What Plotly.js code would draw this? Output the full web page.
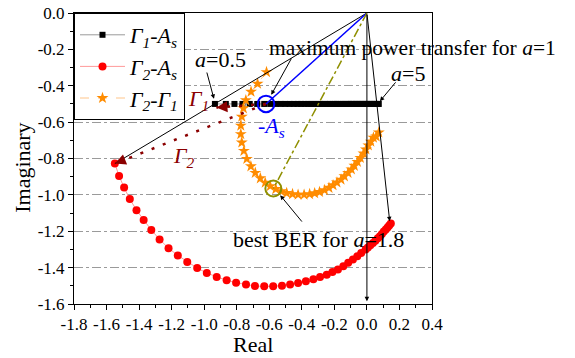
<!DOCTYPE html>
<html>
<head>
<meta charset="utf-8">
<script src="https://cdn.plot.ly/plotly-3.0.1.min.js"></script>
<style>html,body{margin:0;padding:0;background:#fff;}#chart{width:575px;height:358px;}</style>
</head>
<body>
<div id="chart"></div>
<script>
// ---- data ----
const g1As_x = [-0.934,-0.867,-0.814,-0.765,-0.720,-0.674,-0.631,-0.594,-0.560,-0.530,-0.502,-0.475,-0.450,-0.426,-0.404,-0.383,-0.361,-0.343,-0.325,-0.306,-0.288,-0.273,-0.257,-0.242,-0.227,-0.211,-0.199,-0.187,-0.175,-0.162,-0.150,-0.138,-0.126,-0.116,-0.107,-0.098,-0.089,-0.080,-0.070,-0.061,-0.052,-0.043,-0.034,-0.024,-0.015,-0.006,0.003,0.012,0.021,0.031,0.040,0.049,0.058,0.067,0.073];
const g1As_y = g1As_x.map(() => -0.5);

const g2As_x = [-1.549,-1.523,-1.492,-1.457,-1.416,-1.372,-1.325,-1.274,-1.219,-1.162,-1.104,-1.043,-0.984,-0.923,-0.862,-0.804,-0.743,-0.688,-0.631,-0.576,-0.522,-0.472,-0.423,-0.375,-0.329,-0.288,-0.247,-0.212,-0.178,-0.145,-0.115,-0.086,-0.059,-0.035,-0.008,0.006,0.021,0.037,0.052,0.067,0.080,0.092,0.104,0.116,0.127,0.137,0.147];
const g2As_y = [-0.828,-0.896,-0.960,-1.023,-1.084,-1.138,-1.193,-1.245,-1.293,-1.333,-1.369,-1.402,-1.430,-1.451,-1.470,-1.483,-1.493,-1.501,-1.503,-1.503,-1.499,-1.493,-1.484,-1.475,-1.464,-1.451,-1.439,-1.424,-1.410,-1.393,-1.373,-1.355,-1.337,-1.319,-1.301,-1.289,-1.277,-1.264,-1.252,-1.239,-1.227,-1.215,-1.202,-1.190,-1.179,-1.168,-1.157];

const g2g1_x = [-0.617,-0.672,-0.712,-0.744,-0.759,-0.769,-0.775,-0.775,-0.769,-0.756,-0.738,-0.713,-0.686,-0.655,-0.625,-0.594,-0.560,-0.527,-0.493,-0.457,-0.423,-0.386,-0.352,-0.321,-0.291,-0.260,-0.233,-0.208,-0.184,-0.159,-0.138,-0.116,-0.095,-0.077,-0.058,-0.040,-0.021,-0.006,0.009,0.024,0.040,0.057,0.073];
const g2g1_y = [-0.325,-0.389,-0.433,-0.480,-0.524,-0.570,-0.619,-0.666,-0.712,-0.758,-0.802,-0.843,-0.879,-0.909,-0.933,-0.952,-0.968,-0.980,-0.990,-0.996,-0.999,-0.999,-0.996,-0.991,-0.984,-0.974,-0.961,-0.947,-0.932,-0.916,-0.898,-0.879,-0.860,-0.840,-0.819,-0.797,-0.772,-0.750,-0.728,-0.707,-0.685,-0.679,-0.657];

const seriesNames = ['<i>Γ<sub>1</sub>-A<sub>s</sub></i>', '<i>Γ<sub>2</sub>-A<sub>s</sub></i>', '<i>Γ<sub>2</sub>-Γ<sub>1</sub></i>'];

const xTickVals = [-1.8,-1.6,-1.4,-1.2,-1.0,-0.8,-0.6,-0.4,-0.2,0.0,0.2,0.4];
const xTickText = ['-1.8','-1.6','-1.4','-1.2','-1.0','-0.8','-0.6','-0.4','-0.2','0.0','0.2','0.4'];
const yTickVals = [0.0,-0.2,-0.4,-0.6,-0.8,-1.0,-1.2,-1.4,-1.6];
const yTickText = ['0.0','-0.2','-0.4','-0.6','-0.8','-1.0','-1.2','-1.4','-1.6'];

// key points
const origin = [0, 0];
const minusAs = [-0.62, -0.5];
const gamma1Pt = [-0.925, -0.52];
const gamma2Pt = [g2As_x[0], g2As_y[0]];
const bestBER = [-0.575, -0.965];
const redEnd = [0.14, -1.145];
const bottomPt = [0, -1.585];

const serif = 'Liberation Serif';
const darkRed = '#8b0000';

const traces = [
  {x: g1As_x, y: g1As_y, name: seriesNames[0], type: 'scatter', mode: 'lines+markers',
   line: {color: '#9a9a9a', width: 1}, marker: {symbol: 'square', size: 6, color: '#000'}},
  {x: g2As_x, y: g2As_y, name: seriesNames[1], type: 'scatter', mode: 'lines+markers',
   line: {color: '#ff9a9a', width: 1}, marker: {symbol: 'circle', size: 8, color: '#ff0000'}},
  {x: g2g1_x, y: g2g1_y, name: seriesNames[2], type: 'scatter', mode: 'lines+markers',
   line: {color: '#ffc58a', width: 1, dash: 'dash'}, marker: {symbol: 'star', size: 9, color: '#ff8c00', line: {width: 0}}}
];

function seg(p, q, color, width, dash) {
  return {type: 'line', xref: 'x', yref: 'y', x0: p[0], y0: p[1], x1: q[0], y1: q[1],
          line: {color: color, width: width, dash: dash || 'solid'}, layer: 'above'};
}
function ring(c, r, color) {
  return {type: 'circle', xref: 'x', yref: 'y', xsizemode: 'pixel', ysizemode: 'pixel',
          xanchor: c[0], yanchor: c[1], x0: -r, x1: r, y0: -r, y1: r,
          line: {color: color, width: 2}, layer: 'above'};
}

const shapes = [
  seg(origin, gamma2Pt, '#000', 1),
  seg(minusAs, gamma2Pt, darkRed, 2.5, '3px,9px'),
  seg(minusAs, gamma1Pt, darkRed, 2.5, '3px,9px'),
  seg(origin, minusAs, '#0000ff', 1.5),
  seg(origin, bestBER, '#8f8f00', 1.5, 'dashdot'),
  ring(minusAs, 8.3, '#0000ff'),
  ring(bestBER, 8, '#8f8f00')
];

function arrow(head, tail, color, width, size, headStyle) {
  return {x: head[0], y: head[1], ax: tail[0], ay: tail[1], xref: 'x', yref: 'y', axref: 'x', ayref: 'y',
          text: '', showarrow: true, arrowhead: headStyle || 2, arrowsize: size || 0.9,
          arrowwidth: width || 1, arrowcolor: color || '#000'};
}
function headOnly(head, dx, dy) {
  return {x: head[0], y: head[1], ax: dx, ay: dy, xref: 'x', yref: 'y',
          text: '', showarrow: true, arrowhead: 2, arrowsize: 1.1, arrowwidth: 2, arrowcolor: darkRed};
}
function label(pos, text, color, anchor, size) {
  return {x: pos[0], y: pos[1], xref: 'x', yref: 'y', text: text, showarrow: false,
          xanchor: anchor || 'center', yanchor: 'middle',
          font: {family: serif, size: size || 22, color: color || '#000'}};
}

const annotations = [
  arrow(redEnd, origin),
  arrow(bottomPt, origin),
  arrow([-0.940, -0.472], [-0.986, -0.319]),
  arrow([0.080, -0.485], [0.184, -0.373]),
  arrow([-0.588, -0.450], [-0.459, -0.242]),
  arrow([-0.533, -1.002], [-0.392, -1.155]),
  headOnly(gamma2Pt, 11, -4.4),
  headOnly(gamma1Pt, 12, -1),
  label([-1.035, -0.477], '<i>Γ<sub>1</sub></i>', darkRed),
  label([-1.121, -0.794], '<i>Γ<sub>2</sub></i>', darkRed),
  label([-0.588, -0.625], '<i>-A<sub>s</sub></i>', '#0000ff'),
  label([-0.900, -0.258], '<i>a</i>=0.5'),
  label([0.251, -0.330], '<i>a</i>=5'),
  label([-0.612, -0.192], 'maximum power transfer for <i>a</i>=1', '#000', 'left', 21.5),
  label([-0.833, -1.248], 'best BER for <i>a</i>=1.8', '#000', 'left'),
  {x: 0.5, y: 0, xref: 'paper', yref: 'paper', yshift: -40.5, text: 'Real', showarrow: false,
   xanchor: 'center', yanchor: 'middle', font: {family: serif, size: 22, color: '#000'}},
  {x: 0, y: 0.468, xref: 'paper', yref: 'paper', xshift: -51, text: 'Imaginary', showarrow: false,
   textangle: -90, xanchor: 'center', yanchor: 'middle', font: {family: serif, size: 22, color: '#000'}}
];

function makeAxis(extra) {
  return Object.assign({
    showline: true, mirror: true, linecolor: '#000', linewidth: 1,
    ticks: 'outside', ticklen: 5, tickcolor: '#000', tickwidth: 1,
    tickmode: 'array', zeroline: false,
    tickfont: {family: 'Liberation Serif', size: 17, color: '#000'},
    minor: {tickmode: 'linear', tick0: 0, dtick: 0.1, ticks: 'outside', ticklen: 3, tickcolor: '#000', showgrid: false}
  }, extra);
}

const layout = {
  width: 575, height: 358,
  margin: {l: 74, r: 143, t: 12.7, b: 53.5},
  paper_bgcolor: '#fff', plot_bgcolor: '#fff',
  font: {family: 'Liberation Serif', size: 17, color: '#000'},
  xaxis: makeAxis({range: [-1.8, 0.4], tickvals: xTickVals, ticktext: xTickText, showgrid: false}),
  yaxis: makeAxis({range: [-1.6, 0], tickvals: yTickVals, ticktext: yTickText,
    showgrid: true, gridcolor: '#9a9a9a', gridwidth: 1, griddash: 'dashdot'}),
  showlegend: true,
  legend: {x: 0, y: 1, xanchor: 'left', yanchor: 'top', bgcolor: '#fff', bordercolor: '#000', borderwidth: 1,
           font: {family: serif, size: 22, color: '#000'}, itemwidth: 45, tracegroupgap: 0},
  shapes: shapes,
  annotations: annotations
};

Plotly.newPlot('chart', traces, layout, {displayModeBar: false, staticPlot: true});
</script>
</body>
</html>
